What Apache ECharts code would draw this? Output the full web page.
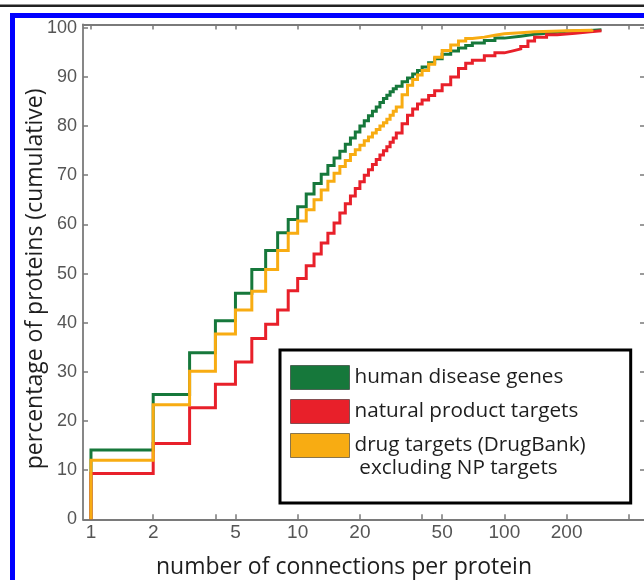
<!DOCTYPE html>
<html>
<head>
<meta charset="utf-8">
<script src="https://cdn.jsdelivr.net/npm/echarts@6/dist/echarts.min.js"></script>
<style>
html,body{margin:0;padding:0;background:#fff;}
#chart{width:644px;height:580px;}
</style>
</head>
<body>
<div id="chart"></div>
<script>
// ---------- data ----------
const seriesNames = ['human disease genes', 'natural product targets', 'drug targets (DrugBank)'];
const legendExtraLine = ' excluding NP targets';
const xTickValues = [1, 2, 4, 5, 10, 20, 40, 50, 100, 200, 400];
const xLabelValues = [1, 2, 5, 10, 20, 50, 100, 200];
const yTickValues = [0, 10, 20, 30, 40, 50, 60, 70, 80, 90, 100];

// human disease genes (green)
const diseaseN   = [1, 1, 2, 3, 4, 5, 6, 7, 8, 9, 10, 11, 12, 13, 14, 15, 16, 17, 18, 19, 20, 21, 22, 23, 24, 25, 26, 27, 28, 29, 30, 32, 34, 36, 38, 40, 43, 46, 50, 55, 60, 65, 70, 80, 90, 100, 120, 140, 170, 200, 250, 295];
const diseasePct = [0, 14.1, 25.4, 33.9, 40.4, 46.0, 50.8, 54.7, 58.3, 61.0, 63.6, 66.2, 68.3, 70.2, 72.0, 73.5, 74.9, 76.3, 77.6, 78.8, 80.0, 81.1, 82.1, 83.0, 83.9, 84.8, 85.6, 86.3, 87.0, 87.6, 88.1, 89.0, 89.8, 90.6, 91.3, 92.0, 92.9, 93.7, 94.6, 95.3, 95.9, 96.4, 96.9, 97.4, 97.9, 98.3, 98.7, 99.0, 99.3, 99.4, 99.6, 99.7];

// natural product targets (red)
const npN   = [1, 1, 2, 3, 4, 5, 6, 7, 8, 9, 10, 11, 12, 13, 14, 15, 16, 17, 18, 19, 20, 21, 22, 23, 24, 25, 26, 27, 28, 29, 30, 32, 34, 36, 38, 40, 43, 46, 50, 55, 60, 65, 70, 80, 90, 100, 110, 120, 130, 140, 160, 180, 220, 260, 295];
const npPct = [0, 9.3, 15.4, 22.7, 27.5, 32.0, 36.8, 39.7, 42.6, 46.5, 49.0, 51.6, 54.0, 56.2, 58.2, 60.3, 62.3, 64.2, 65.8, 67.3, 68.7, 70.0, 71.1, 72.2, 73.2, 74.1, 75.0, 75.8, 76.7, 77.6, 78.6, 80.5, 82.2, 83.5, 84.5, 85.3, 86.2, 87.2, 88.4, 90.0, 91.7, 92.8, 93.4, 94.3, 94.9, 95.3, 95.7, 96.2, 97.3, 98.1, 98.6, 98.9, 99.2, 99.4, 99.5];

// drug targets excluding NP targets (orange)
const drugN   = [1, 1, 2, 3, 4, 5, 6, 7, 8, 9, 10, 11, 12, 13, 14, 15, 16, 17, 18, 19, 20, 21, 22, 23, 24, 25, 26, 27, 28, 29, 30, 32, 34, 36, 38, 40, 43, 46, 50, 55, 60, 65, 70, 80, 90, 100, 120, 140, 170, 200, 265];
const drugPct = [0, 12.0, 23.3, 30.1, 37.7, 42.6, 46.4, 50.8, 54.7, 58.2, 60.7, 63.0, 65.0, 67.0, 68.8, 70.4, 71.8, 73.0, 74.2, 75.2, 76.1, 77.0, 77.8, 78.6, 79.3, 80.0, 80.7, 81.4, 82.2, 83.0, 83.9, 86.4, 88.3, 89.5, 90.4, 91.3, 92.6, 94.0, 95.4, 96.5, 97.3, 97.8, 98.1, 98.5, 98.8, 99.0, 99.2, 99.3, 99.4, 99.5, 99.7];

// ---------- styles ----------
const GREEN = '#16783b';
const RED = '#e8202a';
const ORANGE = '#f8ac12';
const AXIS_GRAY = '#7a7a7a';
const X_MIN = 0.915, X_MAX = 479;
const Y_MAX = 100.67;

function pairs(xs, ys) { return xs.map((x, i) => [x, ys[i]]); }

const axisLine = { show: true, onZero: false, lineStyle: { color: AXIS_GRAY, width: 1.8 } };
const tickStyle = { color: AXIS_GRAY, width: 1.5 };

const legendLeft = 280, legendTop = 350, legendPad = [15, 45, 45, 10];
const itemH = 24, itemGap = 9, legendFont = 20.7;

const chart = echarts.init(document.getElementById('chart'), null, { renderer: 'canvas' });
chart.setOption({
  animation: false,
  backgroundColor: '#fff',
  grid: { left: 83, top: 24.5, width: 562, height: 494.8, containLabel: false, outerBoundsMode: 'none' },
  xAxis: [
    {
      type: 'log', logBase: 10, min: X_MIN, max: X_MAX, position: 'bottom',
      axisLine: axisLine,
      axisTick: { show: true, inside: true, length: 5, customValues: xTickValues, lineStyle: tickStyle },
      axisLabel: { customValues: xLabelValues, margin: 4, color: '#555', fontSize: 19, fontFamily: 'Liberation Sans' },
      splitLine: { show: false }, minorTick: { show: false },
      name: 'number of connections per protein', nameLocation: 'middle', nameGap: 37, nameMoveOverlap: false,
      nameTextStyle: { fontFamily: 'Open Sans', fontSize: 23, color: '#1e1e1e', padding: [0, 40, 0, 0] }
    },
    {
      type: 'log', logBase: 10, min: X_MIN, max: X_MAX, position: 'top',
      axisLine: axisLine,
      axisTick: { show: true, inside: true, length: 5, customValues: xTickValues, lineStyle: tickStyle },
      axisLabel: { show: false },
      splitLine: { show: false }
    }
  ],
  yAxis: [
    {
      type: 'value', min: 0, max: Y_MAX, position: 'left',
      axisLine: axisLine,
      axisTick: { show: true, inside: true, length: 5, customValues: yTickValues, lineStyle: tickStyle },
      axisLabel: { customValues: yTickValues, margin: 6, color: '#555', fontSize: 18, fontFamily: 'Liberation Sans' },
      splitLine: { show: false },
      name: 'percentage of proteins (cumulative)', nameLocation: 'middle', nameGap: 36, nameMoveOverlap: false,
      nameTextStyle: { fontFamily: 'Open Sans', fontSize: 23, color: '#1e1e1e', padding: [0, 14, 0, 0] }
    },
    {
      type: 'value', min: 0, max: Y_MAX, position: 'right',
      axisLine: axisLine,
      axisTick: { show: true, inside: true, length: 5, customValues: yTickValues, lineStyle: tickStyle },
      axisLabel: { show: false },
      splitLine: { show: false }
    }
  ],
  legend: {
    orient: 'vertical', left: legendLeft, top: legendTop, padding: legendPad,
    itemWidth: 59, itemHeight: itemH, itemGap: itemGap, icon: 'rect',
    borderColor: '#000', borderWidth: 3, backgroundColor: '#fff',
    selectedMode: false,
    itemStyle: { borderColor: 'rgba(0,0,0,0.45)', borderWidth: 1 },
    textStyle: { fontFamily: 'Open Sans', fontSize: legendFont, color: '#1e1e1e' },
    data: seriesNames
  },
  graphic: [
    { type: 'line', shape: { x1: 0, y1: 5.8, x2: 644, y2: 5.8 }, style: { stroke: '#222', lineWidth: 2.5 }, z: 100 },
    { type: 'rect', shape: { x: 12.5, y: 15.5, width: 800, height: 800 }, style: { stroke: '#0000ff', lineWidth: 5, fill: null }, z: 100 },
    {
      type: 'text', x: legendLeft + legendPad[3] + 59 + 5,
      y: legendTop + legendPad[0] + 2 * (itemH + itemGap) + itemH / 2 + 25,
      style: { text: legendExtraLine, fontFamily: 'Open Sans', fontSize: legendFont, fill: '#1e1e1e', verticalAlign: 'middle', align: 'left' },
      z: 100
    }
  ],
  series: [
    { name: seriesNames[0], type: 'line', step: 'end', symbol: 'none', data: pairs(diseaseN, diseasePct),
      lineStyle: { width: 3, color: GREEN, cap: 'butt', join: 'miter' }, itemStyle: { color: GREEN } },
    { name: seriesNames[1], type: 'line', step: 'end', symbol: 'none', data: pairs(npN, npPct),
      lineStyle: { width: 3, color: RED, cap: 'butt', join: 'miter' }, itemStyle: { color: RED } },
    { name: seriesNames[2], type: 'line', step: 'end', symbol: 'none', data: pairs(drugN, drugPct),
      lineStyle: { width: 3, color: ORANGE, cap: 'butt', join: 'miter' }, itemStyle: { color: ORANGE } }
  ]
});
</script>
</body>
</html>
